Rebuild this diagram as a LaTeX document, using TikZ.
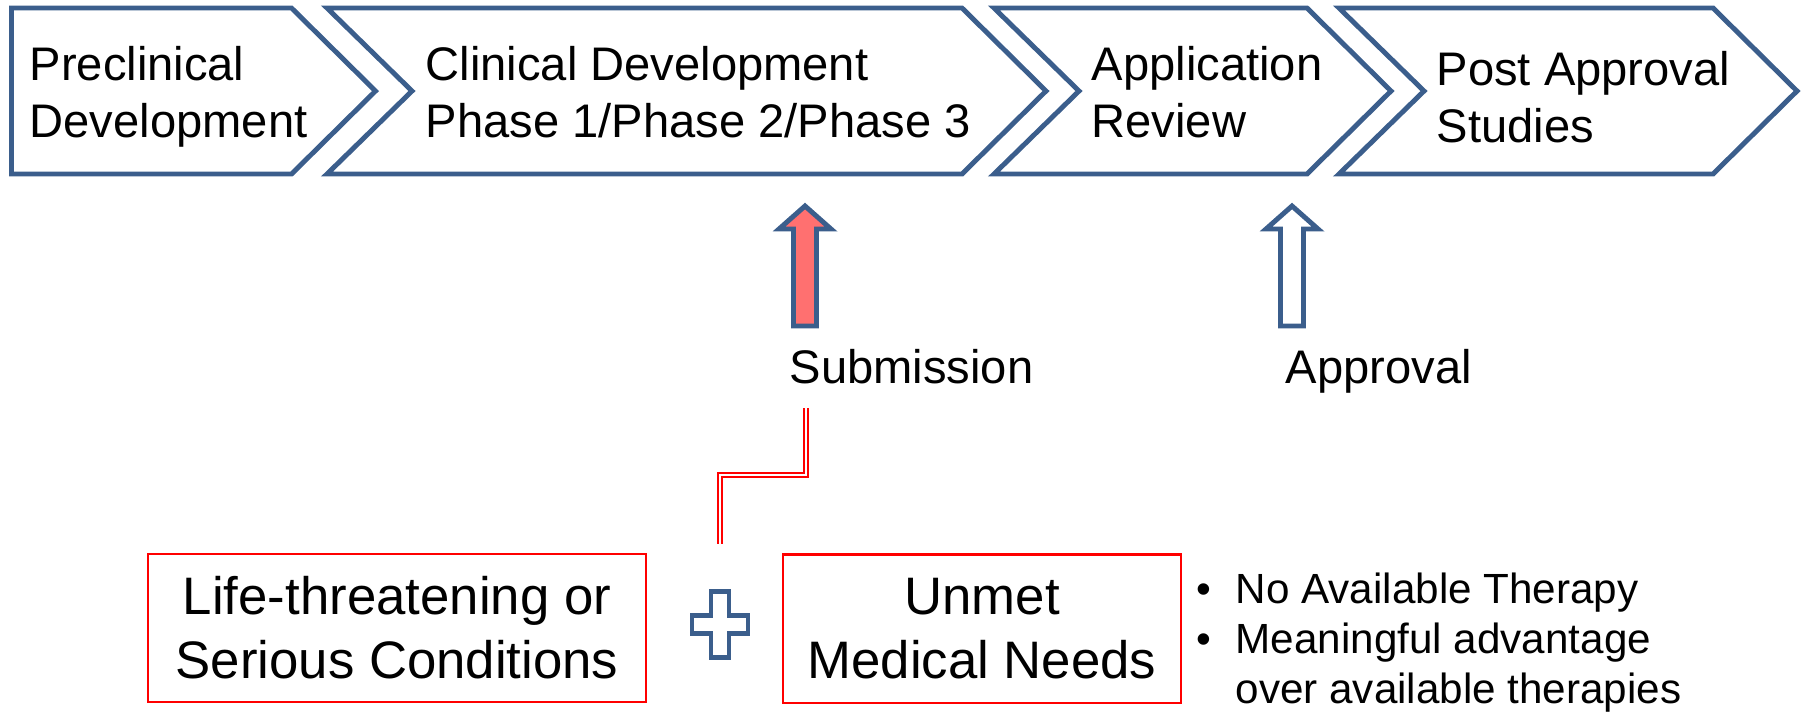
\documentclass[tikz,border=0pt]{standalone}
\usepackage{fontspec}
\setmainfont{Liberation Sans}
\usetikzlibrary{positioning,calc}
\definecolor{phaseblue}{HTML}{3B5E8C}
\definecolor{softred}{HTML}{FF7070}
\definecolor{boxred}{HTML}{FF0000}

\tikzset{
  phase/.style={draw=phaseblue,line width=1.4pt,fill=white},
  phasetxt/.style={anchor=base west,align=left,inner sep=0pt,font=\fontsize{13.4}{16.2}\selectfont},
  labeltxt/.style={anchor=base west,inner sep=0pt,font=\fontsize{13.4}{16.2}\selectfont},
  critbox/.style={draw=boxred,line width=0.6pt,align=center,minimum height=1.48cm,inner sep=0pt,font=\fontsize{15}{18.2}\selectfont},
  upblock/.style={draw=phaseblue,line width=1.4pt},
  redlink/.style={draw=boxred,double=white,line width=0.45pt,double distance=0.8pt},
}

\begin{document}
\begin{tikzpicture}[x=0.01cm,y=-0.01cm]
\useasboundingbox (0,0) rectangle (1801,711);
% chevrons along the top
\foreach \a/\b/\d in {11.5/291.5/0,327/962/85,994/1307/85,1339/1713/85}{
    \draw[phase] (\a,8) -- (\b,8) -- (\b+84,91) -- (\b,174) -- (\a,174) -- (\a+\d,91) -- cycle;
}
% (base = last line)
\node[phasetxt] (pre) at (29,137) {Preclinical\\Development};
\node[phasetxt] (clin) at (425,137) {Clinical Development\\Phase 1/Phase 2/Phase 3};
\node[phasetxt] (rev) at (1091,137) {Application\\Review};
\node[phasetxt] (post) at (1436,142) {Post Approval\\Studies};

% up arrows
\foreach \cx/\col in {805/softred,1292/white}{
    \draw[upblock,fill=\col] (\cx,206) -- (\cx+26,229) -- (\cx+11.5,229) -- (\cx+11.5,326)
        -- (\cx-11.5,326) -- (\cx-11.5,229) -- (\cx-26,229) -- cycle;
}
\node[labeltxt] (sub) at (789,383) {Submission};
\node[labeltxt] (appr) at (1285,383) {Approval};

% link down to the criteria
\coordinate (linktop) at (806,408);
\coordinate (linkbot) at (720,544);
\draw[redlink] (linktop) -- ++(0,67) -| (linkbot);

% plus sign
\draw[upblock,fill=white] (711,591.5) -- (729,591.5) -- (729,615.5) -- (748,615.5) -- (748,633.5)
    -- (729,633.5) -- (729,657.5) -- (711,657.5) -- (711,633.5) -- (692,633.5) -- (692,615.5)
    -- (711,615.5) -- cycle;

\node[critbox,minimum width=4.98cm] (life) at (397,628) {Life-threatening or\\Serious Conditions};
\node[critbox,minimum width=3.98cm] (unmet) at (982,628.5) {Unmet\\Medical Needs};

\node[anchor=base west,align=left,inner sep=0pt,font=\fontsize{12}{14.2}\selectfont] (needs) at (1196,703)
    {\makebox[0.39cm][l]{\textbullet}No Available Therapy\\
     \makebox[0.39cm][l]{\textbullet}Meaningful advantage\\
     \hspace*{0.39cm}over available therapies};
\end{tikzpicture}
\end{document}
